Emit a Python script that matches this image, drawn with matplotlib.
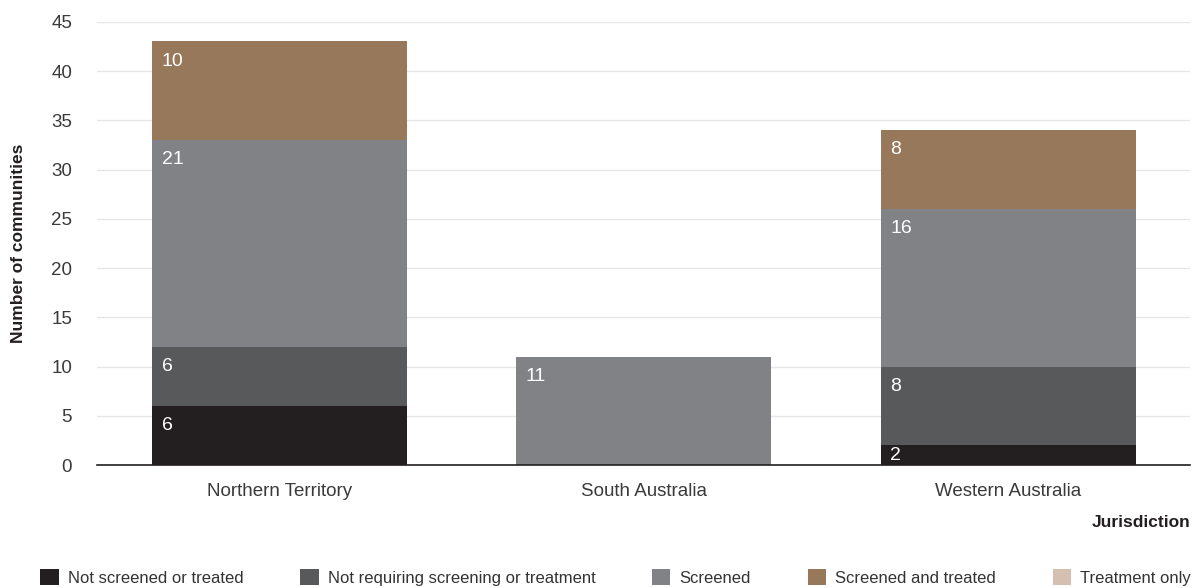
import matplotlib.pyplot as plt
import numpy as np

plt.rcParams['font.family'] = ['Liberation Sans', 'DejaVu Sans']

jurisdictions = ['Northern Territory', 'South Australia', 'Western Australia']
series_names = ['Not screened or treated', 'Not requiring screening or treatment',
                'Screened', 'Screened and treated', 'Treatment only']
not_screened = [6, 0, 2]
not_requiring = [6, 0, 8]
screened = [21, 11, 16]
screened_treated = [10, 0, 8]
treatment_only = [0, 0, 0]
colors = ['#231f20', '#58595b', '#808285', '#98785b', '#d4bfb0']

series = [not_screened, not_requiring, screened, screened_treated, treatment_only]

fig = plt.figure(figsize=(12, 5.88), dpi=100)
ax = fig.add_axes([0.081, 0.209, 0.911, 0.754])

x = np.arange(len(jurisdictions))
width = 0.70
bottom = np.zeros(len(jurisdictions))
for name, vals, c in zip(series_names, series, colors):
    vals = np.array(vals, dtype=float)
    ax.bar(x, vals, width, bottom=bottom, color=c, label=name, zorder=2)
    for xi, b, v in zip(x, bottom, vals):
        if v <= 0:
            continue
        top = b + v
        if v < 3:
            ax.text(xi - width / 2 + 0.025, b + v / 2, f'{int(v)}', color='white',
                    fontsize=14, va='center', ha='left', zorder=3)
        else:
            ax.annotate(f'{int(v)}', (xi - width / 2, top), xytext=(7, -8),
                        textcoords='offset points', color='white', fontsize=14,
                        va='top', ha='left', zorder=3)
    bottom += vals

ax.set_xlim(-0.5, 2.5)
ax.set_ylim(0, 45)
ax.set_yticks(range(0, 46, 5))
ax.set_xticks(x)
ax.set_xticklabels(jurisdictions)
ax.tick_params(axis='both', length=0, labelsize=13.5, colors='#3a3a3a')
ax.tick_params(axis='x', pad=13)
ax.tick_params(axis='y', pad=18)
ax.grid(axis='y', color='#e6e6e6', linewidth=1, zorder=0)
for s in ['left', 'right', 'top']:
    ax.spines[s].set_visible(False)
ax.spines['bottom'].set_color('#231f20')
ax.spines['bottom'].set_linewidth(1.2)
ax.spines['bottom'].set_zorder(4)

ax.set_ylabel('Number of communities', fontsize=12.5, fontweight='bold', color='#231f20', labelpad=18)
fig.text(0.992, 0.112, 'Jurisdiction', fontsize=12.5, fontweight='bold', color='#231f20',
         ha='right', va='center')

fig.legend(loc='lower center', bbox_to_anchor=(0.513, -0.022), ncol=5, frameon=False,
           fontsize=12, handlelength=1.1, handleheight=1.1, columnspacing=3.4,
           handletextpad=0.55, labelcolor='#333333')

fig.savefig('out.png', dpi=100)
